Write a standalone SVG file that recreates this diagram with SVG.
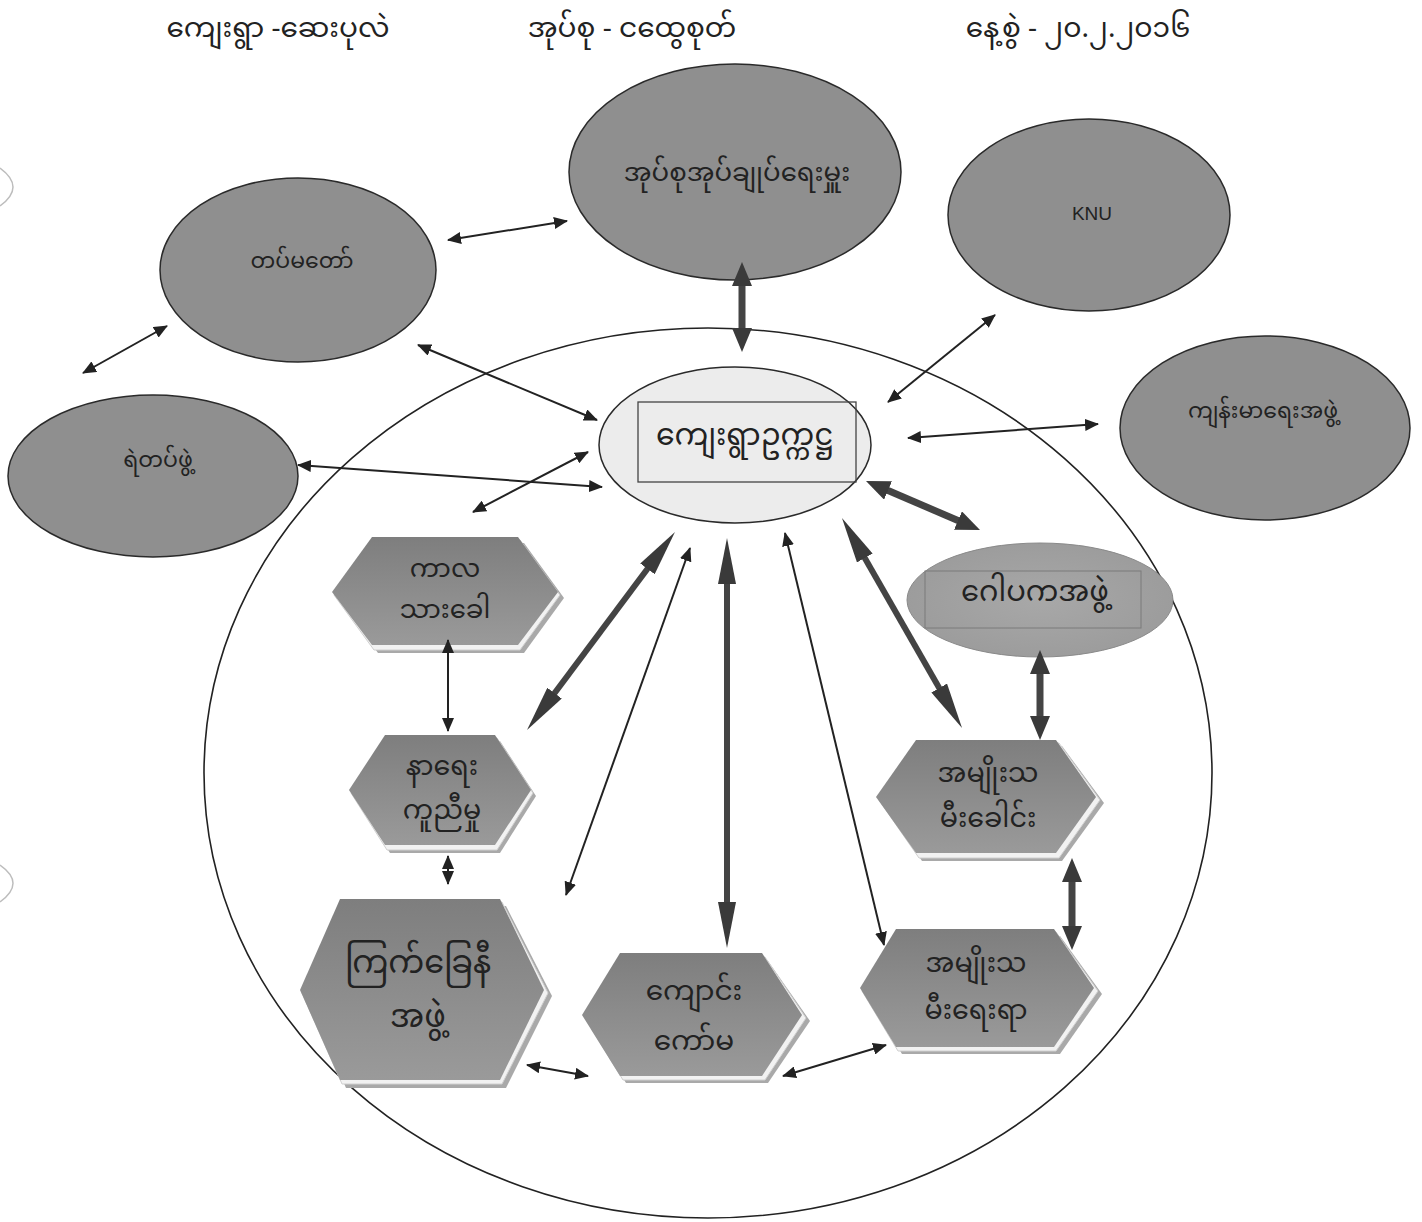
<svg xmlns="http://www.w3.org/2000/svg" width="1422" height="1222" viewBox="0 0 1422 1222">
<style>
.t{font-family:"Noto Sans Myanmar","Padauk","Myanmar Text","Noto Sans","DejaVu Sans",sans-serif;font-size:22px;fill:#222;text-anchor:middle;dominant-baseline:central}
.hd{font-size:28px}
.en{font-family:"Liberation Sans",Arial,sans-serif;font-size:19px}
.ell{fill:#8f8f8f;stroke:#2a2a2a;stroke-width:1.5}
.thin{stroke:#222;stroke-width:2;fill:none;marker-start:url(#ah);marker-end:url(#ah)}
.thickA{stroke:#444;stroke-width:6;fill:none;marker-start:url(#tA);marker-end:url(#tA)}
.thickB{stroke:#444;stroke-width:7;fill:none;marker-start:url(#tB);marker-end:url(#tB)}
.shadow{fill:#a9a9a9}
.rim{fill:#f2f2f2;stroke:#d0d0d0;stroke-width:1}
.body{fill:url(#hexG)}
</style>
<defs>
<marker id="ah" viewBox="0 0 14 12" refX="13" refY="6" markerWidth="14" markerHeight="12" markerUnits="userSpaceOnUse" orient="auto-start-reverse"><path d="M0,0 L14,6 L0,12 z" fill="#222"/></marker>
<marker id="tA" viewBox="0 0 46 18" refX="26" refY="9" markerWidth="46" markerHeight="18" markerUnits="userSpaceOnUse" orient="auto-start-reverse"><path d="M0,0 L46,9 L0,18 z" fill="#3a3a3a"/></marker>
<marker id="tB" viewBox="0 0 24 20" refX="12" refY="10" markerWidth="24" markerHeight="20" markerUnits="userSpaceOnUse" orient="auto-start-reverse"><path d="M0,0 L24,10 L0,20 z" fill="#3a3a3a"/></marker>
<linearGradient id="hexG" x1="0" y1="0" x2="0" y2="1"><stop offset="0" stop-color="#7e7e7e"/><stop offset="1" stop-color="#9a9a9a"/></linearGradient>
<radialGradient id="gopG" cx="0.5" cy="0.5" r="0.6"><stop offset="0" stop-color="#a8a8a8"/><stop offset="1" stop-color="#9a9a9a"/></radialGradient>
</defs>
<rect width="1422" height="1222" fill="#ffffff"/>

<g id="scan-marks" fill="none" stroke="#bdbdbd" stroke-width="1.5">
<path d="M0,168 Q26,187 0,206"/>
<path d="M0,865 Q26,883 0,902"/>
</g>

<g id="header">
<text class="t hd" x="278" y="30">ကျေးရွာ -ဆေးပုလဲ</text>
<text class="t hd" x="632" y="30">အုပ်စု - ငထွေစုတ်</text>
<text class="t hd" x="1078" y="30">နေ့စွဲ - ၂၀.၂.၂၀၁၆</text>
</g>

<g id="boundary"><ellipse cx="708" cy="773" rx="504" ry="445" fill="none" stroke="#222" stroke-width="1.6"/></g>

<g id="n-township-admin"><ellipse class="ell" cx="735" cy="172" rx="166" ry="108"/><text class="t" x="737" y="175" style="font-size:26px">အုပ်စုအုပ်ချုပ်ရေးမှူး</text></g>
<g id="n-knu"><ellipse class="ell" cx="1089" cy="215" rx="141" ry="96"/><text class="t en" x="1092" y="213">KNU</text></g>
<g id="n-army"><ellipse class="ell" cx="298" cy="270" rx="138" ry="92"/><text class="t" x="302" y="263">တပ်မတော်</text></g>
<g id="n-police"><ellipse class="ell" cx="153" cy="476" rx="145" ry="81"/><text class="t" x="158" y="462">ရဲတပ်ဖွဲ့</text></g>
<g id="n-health"><ellipse class="ell" cx="1265" cy="428" rx="145" ry="92"/><text class="t" x="1263" y="413">ကျန်းမာရေးအဖွဲ့</text></g>

<g id="n-chair"><ellipse cx="735" cy="445" rx="136" ry="78" fill="#ececec" stroke="#2a2a2a" stroke-width="1.5"/><rect x="638" y="402" width="218" height="80" fill="none" stroke="#444" stroke-width="1.3"/><text class="t" x="745" y="438" style="font-size:30px">ကျေးရွာဥက္ကဋ္ဌ</text></g>

<g id="n-gopaka"><ellipse cx="1040" cy="600" rx="133" ry="57" fill="url(#gopG)" stroke="#8a8a8a" stroke-width="1"/><rect x="925" y="571" width="216" height="57" fill="none" stroke="#7a7a7a" stroke-width="1"/><text class="t" x="1035" y="594" style="font-size:29px">ဂေါပကအဖွဲ့</text></g>

<g id="n-youth">
<polygon class="shadow" points="338,598 378,543 524,543 564,598 524,653 378,653"/>
<polygon class="rim" points="334,595 374,540 520,540 560,595 520,650 374,650"/>
<polygon class="body" points="332,592 372,537 518,537 558,592 518,645 372,645"/>
<text class="t" style="font-size:26px"><tspan x="445" y="571">ကာလ</tspan><tspan x="445" y="612">သားခေါ</tspan></text>
</g>
<g id="n-funeral">
<polygon class="shadow" points="354,796 390,741 500,741 536,796 500,853 390,853"/>
<polygon class="rim" points="351,793 387,738 497,738 533,793 497,850 387,850"/>
<polygon class="body" points="349,790 385,735 495,735 531,790 495,845 385,845"/>
<text class="t" style="font-size:27px"><tspan x="442" y="768">နာရေး</tspan><tspan x="442" y="812">ကူညီမှု</tspan></text>
</g>
<g id="n-redcross">
<polygon class="shadow" points="306,996 346,906 506,906 552,996 506,1088 346,1088"/>
<polygon class="rim" points="302,993 342,902 502,902 548,993 502,1084 342,1084"/>
<polygon class="body" points="300,990 340,899 500,899 544,990 500,1080 340,1080"/>
<text class="t" style="font-size:32px"><tspan x="418" y="966">ကြက်ခြေနီ</tspan><tspan x="418" y="1020">အဖွဲ့</tspan></text>
</g>
<g id="n-school">
<polygon class="shadow" points="588,1021 626,961 768,961 810,1021 768,1083 626,1083"/>
<polygon class="rim" points="585,1018 623,957 765,957 806,1018 765,1080 623,1080"/>
<polygon class="body" points="582,1015 620,953 762,953 802,1015 762,1076 620,1076"/>
<text class="t" style="font-size:28px"><tspan x="694" y="993">ကျောင်း</tspan><tspan x="694" y="1043">ကော်မ</tspan></text>
</g>
<g id="n-women">
<polygon class="shadow" points="866,994 902,936 1060,936 1102,994 1060,1054 902,1054"/>
<polygon class="rim" points="862,991 898,932 1056,932 1098,991 1056,1051 898,1051"/>
<polygon class="body" points="860,988 896,929 1054,929 1094,988 1054,1047 896,1047"/>
<text class="t" style="font-size:27px"><tspan x="976" y="965">အမျိုးသ</tspan><tspan x="976" y="1012">မီးရေးရာ</tspan></text>
</g>
<g id="n-womenhead">
<polygon class="shadow" points="882,803 922,746 1062,746 1104,803 1062,861 922,861"/>
<polygon class="rim" points="879,800 919,743 1059,743 1100,800 1059,858 919,858"/>
<polygon class="body" points="876,797 916,740 1056,740 1096,797 1056,853 916,853"/>
<text class="t" style="font-size:27px"><tspan x="988" y="775">အမျိုးသ</tspan><tspan x="988" y="820">မီးခေါင်း</tspan></text>
</g>

<g id="connectors">
<line class="thin" x1="448" y1="240" x2="567" y2="221"/>
<line class="thin" x1="83" y1="373" x2="167" y2="326"/>
<line class="thin" x1="418" y1="345" x2="597" y2="420"/>
<line class="thin" x1="298" y1="465" x2="602" y2="487"/>
<line class="thin" x1="473" y1="512" x2="588" y2="452"/>
<line class="thin" x1="995" y1="315" x2="888" y2="402"/>
<line class="thin" x1="908" y1="438" x2="1098" y2="424"/>
<line class="thin" x1="690" y1="548" x2="566" y2="895"/>
<line class="thin" x1="785" y1="533" x2="884" y2="945"/>
<line class="thin" x1="527" y1="1065" x2="588" y2="1076"/>
<line class="thin" x1="783" y1="1076" x2="886" y2="1045"/>
<line class="thin" x1="448" y1="640" x2="448" y2="731"/>
<line class="thin" x1="448" y1="856" x2="448" y2="884"/>
<line class="thickB" x1="742" y1="274" x2="742" y2="340"/>
<line class="thickB" x1="1040" y1="662" x2="1040" y2="728"/>
<line class="thickB" x1="1072" y1="870" x2="1072" y2="938"/>
<line class="thickB" x1="877" y1="485.7" x2="969" y2="525.3"/>
<line class="thickA" x1="727" y1="558" x2="727" y2="928"/>
<line class="thickA" x1="663" y1="548" x2="539" y2="714"/>
<line class="thickA" x1="851.9" y1="535.4" x2="952.1" y2="710.6"/>
</g>
</svg>
